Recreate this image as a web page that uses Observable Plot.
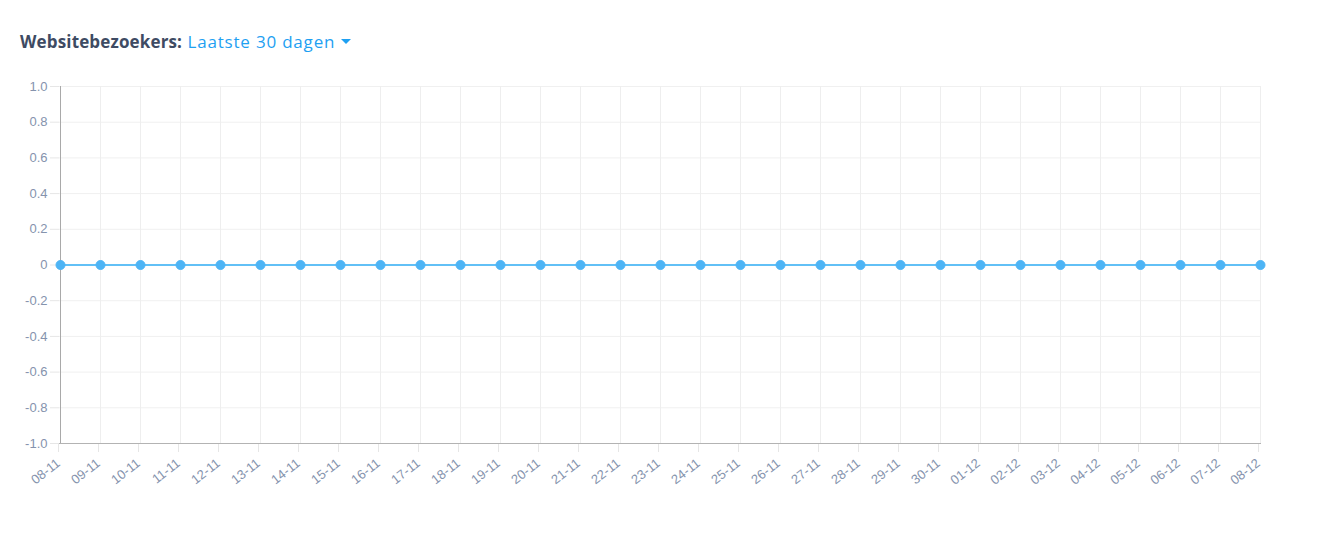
<!DOCTYPE html>
<html>
<head>
<meta charset="utf-8">
<script src="https://cdn.jsdelivr.net/npm/d3@7"></script>
<script src="https://cdn.jsdelivr.net/npm/@observablehq/plot@0.6"></script>
<style>
  html, body { margin: 0; padding: 0; background: #fff; }
  #title { height: 70px; box-sizing: border-box; padding: 31px 0 0 20px; font-family: "Open Sans", Lato, sans-serif; font-size: 17px; line-height: 22px; white-space: nowrap; }
  #title .lbl { color: #3e4b63; font-weight: 700; letter-spacing: 0.15px; }
  #title .sel { color: #1ea0f2; letter-spacing: 0.8px; margin-left: 1px; }
  #title .caret { display: inline-block; width: 0; height: 0; border-left: 5px solid transparent; border-right: 5px solid transparent; border-top: 5px solid #1ea0f2; vertical-align: middle; margin-left: 6px; position: relative; top: -2px; }
  #chart svg { display: block; }
</style>
</head>
<body>
<div id="title"><span class="lbl">Websitebezoekers:</span> <span class="sel">Laatste 30 dagen</span><span class="caret"></span></div>
<div id="chart"></div>
<script>
const dates = ["08-11","09-11","10-11","11-11","12-11","13-11","14-11","15-11","16-11","17-11","18-11","19-11","20-11","21-11","22-11","23-11","24-11","25-11","26-11","27-11","28-11","29-11","30-11","01-12","02-12","03-12","04-12","05-12","06-12","07-12","08-12"];
const visitors = [0,0,0,0,0,0,0,0,0,0,0,0,0,0,0,0,0,0,0,0,0,0,0,0,0,0,0,0,0,0,0];
const yTicks = [-1.0,-0.8,-0.6,-0.4,-0.2,0,0.2,0.4,0.6,0.8,1.0];

const data = dates.map((d, i) => ({date: d, value: visitors[i]}));
const fmt = v => Math.abs(v) < 1e-9 ? "0" : v.toFixed(1);

const chart = Plot.plot({
  width: 1335,
  height: 467,
  marginTop: 16,
  marginBottom: 94,
  marginLeft: 59,
  marginRight: 74,
  style: {fontFamily: "'Liberation Sans', Arial, sans-serif", fontSize: "13px", color: "#8593ad", background: "#fff"},
  x: {type: "point", domain: dates, padding: 0},
  y: {domain: [-1, 1]},
  marks: [
    Plot.ruleY(yTicks, {stroke: "#f0f0f0", strokeWidth: 1}),
    Plot.ruleX(dates, {stroke: "#eeeeee", strokeWidth: 1}),
    Plot.axisY({ticks: yTicks, tickFormat: fmt, tickSize: 9, tickPadding: 3, stroke: "#e6e6e6", fill: "#8593ad", fontSize: 13, label: null}),
    Plot.axisX({ticks: dates, tickSize: 9, tickPadding: 9, dx: -2, tickRotate: -38, stroke: "#e6e6e6", fill: "#8593ad", fontSize: 13, label: null}),
    Plot.ruleX([dates[0]], {stroke: "#a9a9a9", strokeWidth: 1}),
    Plot.ruleY([-1], {stroke: "#b3b3b3", strokeWidth: 1}),
    Plot.line(data, {x: "date", y: "value", stroke: "#62c0f6", strokeWidth: 2}),
    Plot.dot(data, {x: "date", y: "value", r: 4.5, fill: "#4db4f5", stroke: "#4db4f5", strokeWidth: 1})
  ]
});
document.getElementById("chart").appendChild(chart);
</script>
</body>
</html>
